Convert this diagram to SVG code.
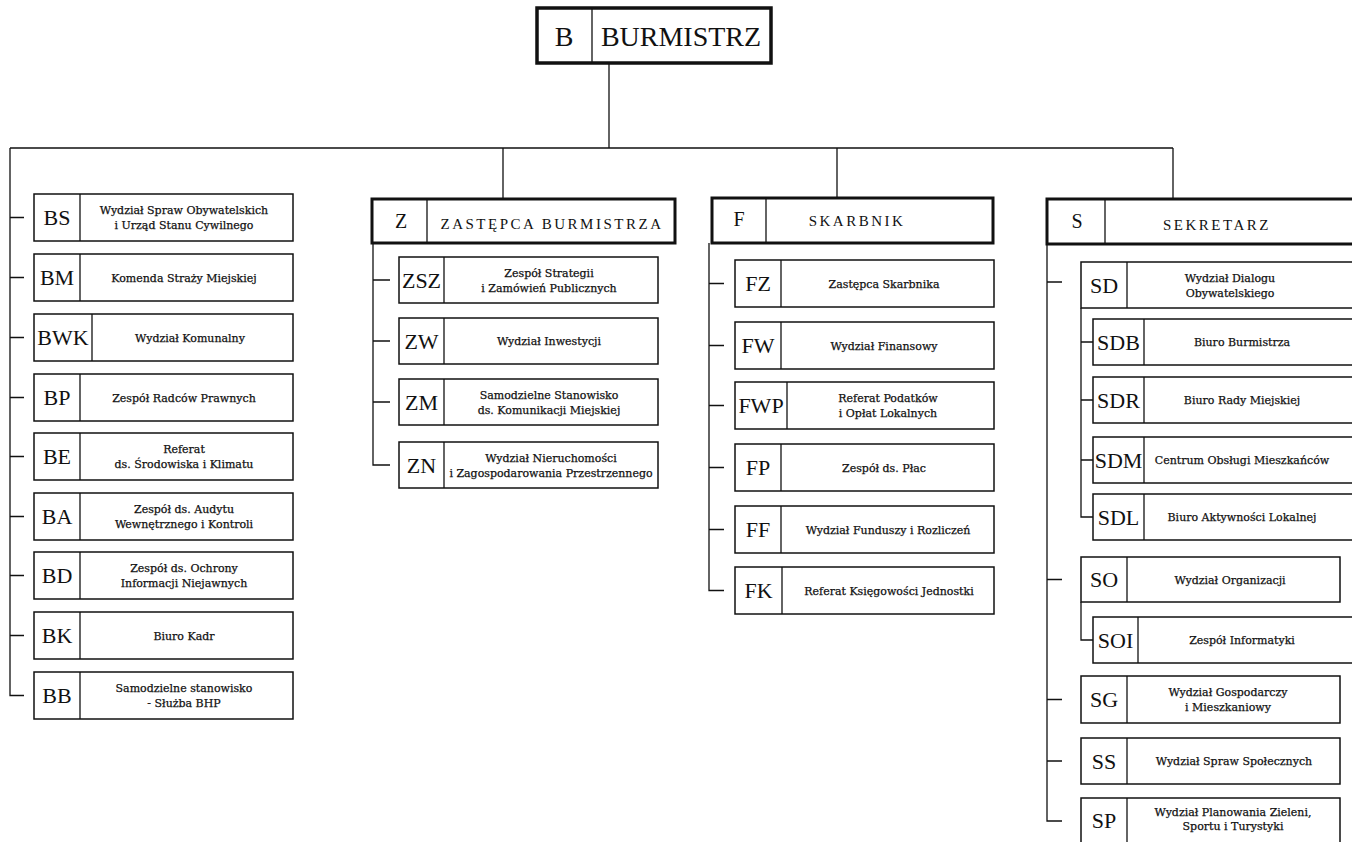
<svg xmlns="http://www.w3.org/2000/svg" width="1352" height="842" viewBox="0 0 1352 842">
<style>
.bg{fill:#fff}
.hdr{fill:#fff;stroke:#111;stroke-width:3}
.top{fill:#fff;stroke:#111;stroke-width:3.5}
.box{fill:#fff;stroke:#111;stroke-width:1.5}
.dv{stroke:#111;stroke-width:1.3}
.code{font-family:"Liberation Serif",serif;font-size:22px;text-anchor:middle;fill:#111}
.hcode{font-family:"Liberation Serif",serif;font-size:20px;text-anchor:middle;fill:#111}
.htitle{font-family:"Liberation Serif",serif;font-size:15px;letter-spacing:2.5px;text-anchor:middle;fill:#111}
.big{font-family:"Liberation Serif",serif;font-size:28px;text-anchor:middle;fill:#111}
.name{font-family:"DejaVu Serif",serif;font-size:11px;text-anchor:middle;fill:#111;stroke:#111;stroke-width:0.25}
#connectors path{stroke:#111;stroke-width:1.3;fill:none}
</style>
<rect class="bg" x="0" y="0" width="1352" height="842"/>
<g id="connectors">
<path d="M609,63 V148 M10,148 H1173"/>
<path d="M10,148 V695.5 H24 M10,217.5 H24 M10,277.5 H24 M10,337.5 H24 M10,397.5 H24 M10,456.5 H24 M10,516.5 H24 M10,575.5 H24 M10,635.5 H24"/>
<path d="M503,148 V199 M373,243 V465 H390 M373,280 H390 M373,341 H390 M373,402 H390"/>
<path d="M837,148 V198 M709,243 V590.5 H724 M709,283.5 H724 M709,345.5 H724 M709,405.5 H724 M709,467.5 H724 M709,529.5 H724"/>
<path d="M1173,148 V199 M1047,244 V821 H1062 M1047,282 H1062 M1047,579.5 H1062 M1047,699.5 H1062 M1047,761 H1062"/>
<path d="M1081,308 V517 H1093 M1081,342 H1093 M1081,400 H1093 M1081,460 H1093"/>
<path d="M1081,602 V640 H1093"/>
</g>
<g id="B">
<rect class="top" x="537" y="8" width="234" height="55"/>
<line class="dv" x1="592" y1="8" x2="592" y2="63"/>
<text class="big" x="564" y="46">B</text>
<text class="big" x="681" y="46">BURMISTRZ</text>
</g>
<g id="BS"><rect class="box" x="34" y="194" width="259" height="47"/><line class="dv" x1="80" y1="194" x2="80" y2="241"/><text class="code" x="57" y="225">BS</text><text class="name" x="184" y="214">Wydział Spraw Obywatelskich</text><text class="name" x="184" y="229">i Urząd Stanu Cywilnego</text></g>
<g id="BM"><rect class="box" x="34" y="254" width="259" height="47"/><line class="dv" x1="80" y1="254" x2="80" y2="301"/><text class="code" x="57" y="285">BM</text><text class="name" x="184" y="282">Komenda Straży Miejskiej</text></g>
<g id="BWK"><rect class="box" x="34" y="314" width="259" height="47"/><line class="dv" x1="92" y1="314" x2="92" y2="361"/><text class="code" x="63" y="345">BWK</text><text class="name" x="190" y="342">Wydział Komunalny</text></g>
<g id="BP"><rect class="box" x="34" y="374" width="259" height="47"/><line class="dv" x1="80" y1="374" x2="80" y2="421"/><text class="code" x="57" y="405">BP</text><text class="name" x="184" y="402">Zespół Radców Prawnych</text></g>
<g id="BE"><rect class="box" x="34" y="433" width="259" height="47"/><line class="dv" x1="80" y1="433" x2="80" y2="480"/><text class="code" x="57" y="464">BE</text><text class="name" x="184" y="453">Referat</text><text class="name" x="184" y="468">ds. Środowiska i Klimatu</text></g>
<g id="BA"><rect class="box" x="34" y="493" width="259" height="47"/><line class="dv" x1="80" y1="493" x2="80" y2="540"/><text class="code" x="57" y="524">BA</text><text class="name" x="184" y="513">Zespół ds. Audytu</text><text class="name" x="184" y="528">Wewnętrznego i Kontroli</text></g>
<g id="BD"><rect class="box" x="34" y="552" width="259" height="47"/><line class="dv" x1="80" y1="552" x2="80" y2="599"/><text class="code" x="57" y="583">BD</text><text class="name" x="184" y="572">Zespół ds. Ochrony</text><text class="name" x="184" y="587">Informacji Niejawnych</text></g>
<g id="BK"><rect class="box" x="34" y="612" width="259" height="47"/><line class="dv" x1="80" y1="612" x2="80" y2="659"/><text class="code" x="57" y="643">BK</text><text class="name" x="184" y="640">Biuro Kadr</text></g>
<g id="BB"><rect class="box" x="34" y="672" width="259" height="47"/><line class="dv" x1="80" y1="672" x2="80" y2="719"/><text class="code" x="57" y="703">BB</text><text class="name" x="184" y="692">Samodzielne stanowisko</text><text class="name" x="184" y="707">- Służba BHP</text></g>
<g id="Z"><rect class="hdr" x="372" y="199" width="303" height="44"/><line class="dv" x1="427" y1="199" x2="427" y2="243"/><text class="hcode" x="401" y="228">Z</text><text class="htitle" x="552" y="229">ZASTĘPCA BURMISTRZA</text></g>
<g id="ZSZ"><rect class="box" x="399" y="257" width="259" height="46"/><line class="dv" x1="444" y1="257" x2="444" y2="303"/><text class="code" x="421.5" y="287.5">ZSZ</text><text class="name" x="549" y="276.5">Zespół Strategii</text><text class="name" x="549" y="291.5">i Zamówień Publicznych</text></g>
<g id="ZW"><rect class="box" x="399" y="318" width="259" height="46"/><line class="dv" x1="444" y1="318" x2="444" y2="364"/><text class="code" x="421.5" y="348.5">ZW</text><text class="name" x="549" y="345">Wydział Inwestycji</text></g>
<g id="ZM"><rect class="box" x="399" y="379" width="259" height="46"/><line class="dv" x1="444" y1="379" x2="444" y2="425"/><text class="code" x="421.5" y="409.5">ZM</text><text class="name" x="549" y="398.5">Samodzielne Stanowisko</text><text class="name" x="549" y="413.5">ds. Komunikacji Miejskiej</text></g>
<g id="ZN"><rect class="box" x="399" y="442" width="259" height="46"/><line class="dv" x1="444" y1="442" x2="444" y2="488"/><text class="code" x="421.5" y="472.5">ZN</text><text class="name" x="551" y="461.5">Wydział Nieruchomości</text><text class="name" x="551" y="476.5">i Zagospodarowania Przestrzennego</text></g>
<g id="F"><rect class="hdr" x="712" y="198" width="281" height="45"/><line class="dv" x1="766" y1="198" x2="766" y2="243"/><text class="hcode" x="739" y="226">F</text><text class="htitle" x="857" y="226">SKARBNIK</text></g>
<g id="FZ"><rect class="box" x="735" y="260" width="259" height="47"/><line class="dv" x1="781" y1="260" x2="781" y2="307"/><text class="code" x="758" y="291">FZ</text><text class="name" x="884" y="287.5">Zastępca Skarbnika</text></g>
<g id="FW"><rect class="box" x="735" y="322" width="259" height="47"/><line class="dv" x1="781" y1="322" x2="781" y2="369"/><text class="code" x="758" y="353">FW</text><text class="name" x="884" y="349.5">Wydział Finansowy</text></g>
<g id="FWP"><rect class="box" x="735" y="382" width="259" height="47"/><line class="dv" x1="787" y1="382" x2="787" y2="429"/><text class="code" x="761" y="413">FWP</text><text class="name" x="888" y="402">Referat Podatków</text><text class="name" x="888" y="417">i Opłat Lokalnych</text></g>
<g id="FP"><rect class="box" x="735" y="444" width="259" height="47"/><line class="dv" x1="781" y1="444" x2="781" y2="491"/><text class="code" x="758" y="475">FP</text><text class="name" x="884" y="471.5">Zespół ds. Płac</text></g>
<g id="FF"><rect class="box" x="735" y="506" width="259" height="47"/><line class="dv" x1="781" y1="506" x2="781" y2="553"/><text class="code" x="758" y="537">FF</text><text class="name" x="888" y="533.5">Wydział Funduszy i Rozliczeń</text></g>
<g id="FK"><rect class="box" x="735" y="567" width="259" height="47"/><line class="dv" x1="782" y1="567" x2="782" y2="614"/><text class="code" x="758.5" y="598">FK</text><text class="name" x="889" y="594.5">Referat Księgowości Jednostki</text></g>
<g id="S"><rect class="hdr" x="1047" y="199" width="310" height="45"/><line class="dv" x1="1105" y1="199" x2="1105" y2="244"/><text class="hcode" x="1077" y="228">S</text><text class="htitle" x="1217" y="230">SEKRETARZ</text></g>
<g id="SD"><rect class="box" x="1081" y="262" width="272" height="46"/><line class="dv" x1="1127" y1="262" x2="1127" y2="308"/><text class="code" x="1104" y="292.5">SD</text><text class="name" x="1230" y="281.5">Wydział Dialogu</text><text class="name" x="1230" y="296.5">Obywatelskiego</text></g>
<g id="SDB"><rect class="box" x="1093" y="319" width="260" height="46"/><line class="dv" x1="1144" y1="319" x2="1144" y2="365"/><text class="code" x="1118.5" y="349.5">SDB</text><text class="name" x="1242" y="346">Biuro Burmistrza</text></g>
<g id="SDR"><rect class="box" x="1093" y="377" width="260" height="46"/><line class="dv" x1="1144" y1="377" x2="1144" y2="423"/><text class="code" x="1118.5" y="407.5">SDR</text><text class="name" x="1242" y="404">Biuro Rady Miejskiej</text></g>
<g id="SDM"><rect class="box" x="1093" y="437" width="260" height="46"/><line class="dv" x1="1144" y1="437" x2="1144" y2="483"/><text class="code" x="1118.5" y="467.5">SDM</text><text class="name" x="1242" y="464">Centrum Obsługi Mieszkańców</text></g>
<g id="SDL"><rect class="box" x="1093" y="494" width="260" height="46"/><line class="dv" x1="1144" y1="494" x2="1144" y2="540"/><text class="code" x="1118.5" y="524.5">SDL</text><text class="name" x="1242" y="521">Biuro Aktywności Lokalnej</text></g>
<g id="SO"><rect class="box" x="1081" y="557" width="259" height="45"/><line class="dv" x1="1127" y1="557" x2="1127" y2="602"/><text class="code" x="1104" y="587">SO</text><text class="name" x="1230" y="583.5">Wydział Organizacji</text></g>
<g id="SOI"><rect class="box" x="1093" y="617" width="260" height="46"/><line class="dv" x1="1138" y1="617" x2="1138" y2="663"/><text class="code" x="1115.5" y="647.5">SOI</text><text class="name" x="1242" y="644">Zespół Informatyki</text></g>
<g id="SG"><rect class="box" x="1081" y="676" width="259" height="47"/><line class="dv" x1="1127" y1="676" x2="1127" y2="723"/><text class="code" x="1104" y="707">SG</text><text class="name" x="1228" y="696">Wydział Gospodarczy</text><text class="name" x="1228" y="711">i Mieszkaniowy</text></g>
<g id="SS"><rect class="box" x="1081" y="738" width="259" height="46"/><line class="dv" x1="1127" y1="738" x2="1127" y2="784"/><text class="code" x="1104" y="768.5">SS</text><text class="name" x="1234" y="765">Wydział Spraw Społecznych</text></g>
<g id="SP"><rect class="box" x="1081" y="798" width="259" height="50"/><line class="dv" x1="1127" y1="798" x2="1127" y2="848"/><text class="code" x="1104" y="828">SP</text><text class="name" x="1233" y="816">Wydział Planowania Zieleni,</text><text class="name" x="1233" y="830">Sportu i Turystyki</text></g>
</svg>
